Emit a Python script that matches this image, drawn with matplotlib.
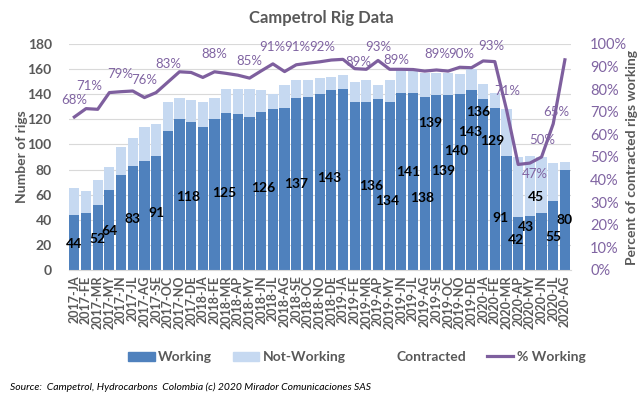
import numpy as np
import matplotlib.pyplot as plt
from matplotlib.patches import Patch
from matplotlib.lines import Line2D

plt.rcParams['font.family'] = ['Lato', 'DejaVu Sans']

# months (no April 2017 in the source)
months = ['2017-JA', '2017-FE', '2017-MR', '2017-MY', '2017-JN', '2017-JL', '2017-AG', '2017-SE',
          '2017-OC', '2017-NO', '2017-DE',
          '2018-JA', '2018-FE', '2018-MR', '2018-AP', '2018-MY', '2018-JN', '2018-JL', '2018-AG',
          '2018-SE', '2018-OC', '2018-NO', '2018-DE',
          '2019-JA', '2019-FE', '2019-MR', '2019-AP', '2019-MY', '2019-JN', '2019-JL', '2019-AG',
          '2019-SE', '2019-OC', '2019-NO', '2019-DE',
          '2020-JA', '2020-FE', '2020-MR', '2020-AP', '2020-MY', '2020-JN', '2020-JL', '2020-AG']

working = [44, 45, 52, 64, 76, 83, 87, 91, 111, 120, 118, 114, 120, 125, 124, 122, 126, 128,
           129, 137, 138, 140, 143, 144, 134, 134, 136, 134, 141, 141, 138, 139, 139, 140, 143,
           136, 129, 91, 42, 43, 45, 55, 80]
not_working = [21, 18, 20, 18, 22, 22, 27, 25, 23, 17, 17, 20, 17, 19, 20, 22, 17, 12,
               18, 14, 13, 13, 11, 11, 16, 17, 11, 17, 18, 18, 19, 18, 18, 16, 17,
               12, 12, 37, 48, 48, 45, 30, 6]
pct_working = [67.7, 71.4, 71.1, 78.5, 78.9, 79.2, 76.3, 78.5, 83.1, 87.7, 87.4, 85.2, 87.7,
               87.0, 86.2, 84.9, 88.1, 91.2, 87.8, 90.8, 91.5, 92.1, 92.9, 93.2, 89.1, 88.8,
               92.7, 88.8, 88.8, 88.7, 88.0, 88.5, 88.0, 89.7, 89.5, 92.5, 92.2, 71.0, 46.7,
               47.3, 50.0, 64.7, 93.0]

# rig-count labels as shown on the chart
rig_lbl = ['44', '52', '64', '83', '91', '118', '125', '126', '137', '143', '136', '134', '141',
           '138', '139', '139', '140', '143', '136', '129', '91', '42', '43', '45', '55', '80']
rig_lbl_x = [0, 2, 3, 5, 7, 9.75, 12.85, 16.2, 19.0, 21.85, 25.4, 26.75, 28.6,
             29.75, 30.5, 31.6, 32.7, 33.85, 34.6, 35.75, 36.5, 37.85, 38.7, 39.5, 41.0, 42.0]
rig_lbl_y = [20.7, 25, 31.4, 40.8, 45, 58.3, 61.7, 65.5, 68.2, 73.4, 67, 55, 78,
             57.5, 117, 78.8, 94.7, 110, 125.7, 102.6, 41.6, 23.9, 34, 58.3, 26.5, 39.8]

# percent labels as shown on the chart
pct_lbl = ['68%', '71%', '79%', '76%', '83%', '88%', '85%', '91%', '91%', '92%', '89%', '93%',
           '89%', '89%', '90%', '93%', '71%', '47%', '50%', '65%']
pct_lbl_x = [0, 1.25, 3.95, 6.0, 8.05, 12.0, 15.0, 16.95, 19.1, 21.2, 24.35, 26.0,
             27.6, 31.1, 33.15, 35.7, 37.1, 39.4, 40.05, 41.3]
pct_lbl_y = [75.2, 81.5, 86.7, 84, 91, 95.6, 92.5, 98.8, 98.8, 98.8, 92, 98.7,
             92.9, 95.4, 95.4, 99.3, 79, 42.6, 57.7, 69.9]

dark = '#4F81BD'
light = '#C6D9F1'
purple = '#7E5F9E'
grey = '#595959'

fig = plt.figure(figsize=(6.42, 3.97), dpi=100)
ax = fig.add_axes([0.1067, 0.3199, 0.7823, 0.5693])
x = np.arange(len(months))

ax.bar(x, working, width=0.87, color=dark, zorder=2)
ax.bar(x, not_working, width=0.87, bottom=working, color=light, zorder=2)
ax.set_xlim(-0.5, len(months) - 0.5)
ax.set_ylim(0, 180)
ax.set_yticks(range(0, 181, 20))
ax.grid(axis='y', color='#D9D9D9', linewidth=0.8, zorder=0)
ax.set_axisbelow(True)
for s in ['top', 'right', 'left']:
    ax.spines[s].set_visible(False)
ax.spines['bottom'].set_color('#D9D9D9')
ax.tick_params(axis='both', length=0)
ax.tick_params(axis='y', pad=12, labelsize=10, labelcolor=grey)
for t in ax.get_yticklabels():
    t.set_fontweight('bold')
ax.set_xticks(x)
ax.set_xticklabels(months, rotation=90, fontsize=9, fontweight='bold', color=grey)
ax.tick_params(axis='x', pad=4)

for s, lx, ly in zip(rig_lbl, rig_lbl_x, rig_lbl_y):
    ax.text(lx, ly, s, ha='center', va='center', fontsize=10, fontweight='bold',
            color='black', zorder=5)

ax2 = ax.twinx()
ax2.plot(x, pct_working, color=purple, linewidth=2.3, zorder=4)
ax2.set_ylim(0, 100)
ax2.set_yticks(range(0, 101, 10))
ax2.set_yticklabels([f'{v}%' for v in range(0, 101, 10)])
ax2.tick_params(axis='y', length=0, pad=14, labelsize=10.5, labelcolor='#8064A2')
for s in ['top', 'right', 'left', 'bottom']:
    ax2.spines[s].set_visible(False)

for s, lx, ly in zip(pct_lbl, pct_lbl_x, pct_lbl_y):
    ax2.text(lx, ly, s, ha='center', va='center', fontsize=9.5, color='#8064A2', zorder=5)

fig.text(0.5, 0.955, 'Campetrol Rig Data', ha='center', va='center', fontsize=12,
         fontweight='bold', color=grey)
fig.text(0.034, 0.6045, 'Number of rigs', rotation=90, ha='center', va='center',
         fontsize=10, fontweight='bold', color=grey)
fig.text(0.985, 0.6045, 'Percent of contracted rigs working', rotation=90, ha='center',
         va='center', fontsize=10, fontweight='bold', color=grey)

handles = [Patch(color=dark), Patch(color=light),
           Line2D([], [], color='none'), Line2D([], [], color=purple, linewidth=2.3)]
names = ['Working', 'Not-Working', 'Contracted', '% Working']
leg = fig.legend(handles, names, ncol=4, loc='center', bbox_to_anchor=(0.556, 0.1),
                 frameon=False, handlelength=1.9, handletextpad=0.25, columnspacing=1.5,
                 prop={'size': 10, 'weight': 'bold'})
for t in leg.get_texts():
    t.set_color(grey)

fig.text(0.016, 0.025, 'Source:  Campetrol, Hydrocarbons  Colombia (c) 2020 Mirador Comunicaciones SAS',
         ha='left', va='center', fontsize=7.5, style='italic', color='black')

fig.savefig('out.png', dpi=100)
